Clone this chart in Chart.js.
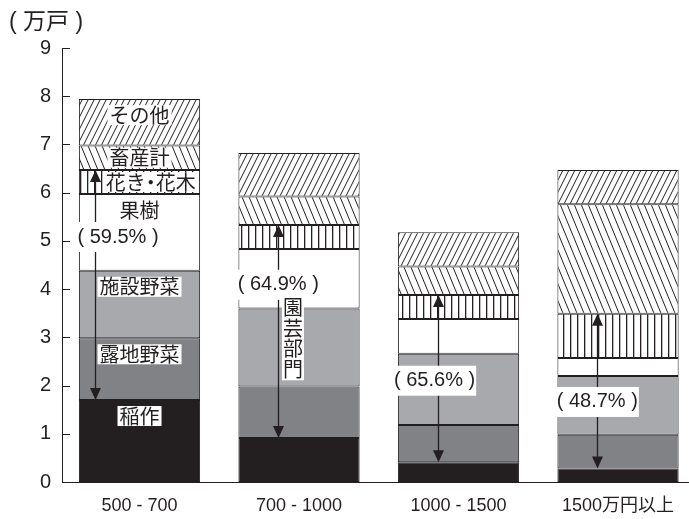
<!DOCTYPE html>
<html><head><meta charset="utf-8">
<script src="https://cdn.jsdelivr.net/npm/chart.js@4"></script>
<style>html,body{margin:0;padding:0;background:#fff;overflow:hidden}#wrap{width:689px;height:519px}</style>
</head><body><div id="wrap"><canvas id="c" width="689" height="519"></canvas></div>
<script>
// ---- data (万戸) ----
const categories = ['500 - 700', '700 - 1000', '1000 - 1500', '1500万円以上'];
const seriesNames = ['稲作', '露地野菜', '施設野菜', '果樹', '花き・花木', '畜産計', 'その他'];
const rice          = [1.70, 0.91, 0.41, 0.28];
const openVeg       = [1.28, 1.07, 0.77, 0.70];
const greenhouseVeg = [1.40, 1.62, 1.48, 1.22];
const fruit         = [1.59, 1.23, 0.72, 0.37];
const flowers       = [0.50, 0.50, 0.50, 0.92];
const livestock     = [0.51, 0.59, 0.59, 2.27];
const other         = [0.96, 0.90, 0.71, 0.71];
const shares        = ['59.5%', '64.9%', '65.6%', '48.7%'];
const yTicks        = [0, 1, 2, 3, 4, 5, 6, 7, 8, 9];
const yTitle = '( 万戸 )';
const hortLabel = '園芸部門';

const seriesValues = [rice, openVeg, greenhouseVeg, fruit, flowers, livestock, other];

// ---- styles ----
const INK = '#231f20';
const LATIN = "'Liberation Sans', Arial, 'Noto Sans CJK JP', sans-serif";
const CJK = "'Noto Sans CJK JP', 'Liberation Sans', sans-serif";

function pattern(kind) {
  const c = document.createElement('canvas');
  let W, H;
  if (kind === 'slash') { W = 6; H = 12; }
  else if (kind === 'back') { W = 7; H = 17; }
  else { W = 7; H = 4; }
  c.width = W; c.height = H;
  const g = c.getContext('2d');
  g.fillStyle = '#fff'; g.fillRect(0, 0, W, H);
  g.strokeStyle = INK; g.fillStyle = INK; g.lineWidth = 1;
  if (kind === 'vert') {
    g.fillRect(3, 0, 1.3, H);
  } else {
    g.beginPath();
    for (const o of [-W, 0, W]) {
      if (kind === 'slash') { g.moveTo(o, H); g.lineTo(o + W, 0); }
      else { g.moveTo(o, 0); g.lineTo(o + W, H); }
    }
    g.stroke();
  }
  return g.createPattern(c, 'repeat');
}

const fills = ['#231f20', '#808285', '#a7a9ac', '#ffffff', pattern('vert'), pattern('back'), pattern('slash')];

// annotation layout (positions in axis units / offsets)
const arrowDX = [-0.28, -0.13, -0.13, -0.13];
const shareY  = [5.08, 4.09, 2.10, 1.66];
const shareDX = [-0.135, -0.13, -0.15, -0.13];
const nameDX  = [0, 0, 0, 0, 0.07, 0, 0];
const hortPos = {i: 1, dx: -0.038, y: 2.98};

const datasets = seriesNames.map((name, k) => ({
  label: name,
  data: seriesValues[k].map((v, i) => ({x: i, y: v})),
  backgroundColor: fills[k],
  borderColor: INK,
  borderWidth: 1,
  borderSkipped: false,
  categoryPercentage: 1,
  barPercentage: 0.76
}));

// draw text centred at (x,y) on a white box; "・" is set half-width
function boxText(ctx, text, x, y, size, family, padX, padY) {
  ctx.font = size + 'px ' + family;
  const parts = [...text].map(ch => {
    const w = ctx.measureText(ch).width;
    return {ch, w: ch === '・' ? w / 2 : w};
  });
  const total = parts.reduce((a, p) => a + p.w, 0);
  ctx.fillStyle = '#fff';
  ctx.fillRect(x - total / 2 - padX, y - size / 2 - padY, total + 2 * padX, size + 2 * padY);
  ctx.fillStyle = INK;
  ctx.textAlign = 'center';
  ctx.textBaseline = 'middle';
  let cx = x - total / 2;
  parts.forEach(p => { ctx.fillText(p.ch, cx + p.w / 2, y); cx += p.w; });
}

const annotate = {
  id: 'annotate',
  afterDraw(chart) {
    const ctx = chart.ctx, xs = chart.scales.x, ys = chart.scales.y, area = chart.chartArea;
    ctx.save();
    // title
    ctx.font = '23px ' + LATIN;
    ctx.fillStyle = INK; ctx.textAlign = 'left'; ctx.textBaseline = 'middle';
    ctx.fillText(yTitle, 9, 23);
    // inward ticks
    ctx.strokeStyle = INK; ctx.lineWidth = 1;
    ctx.beginPath();
    yTicks.forEach(t => {
      const py = Math.round(ys.getPixelForValue(t)) + 0.5;
      ctx.moveTo(area.left, py); ctx.lineTo(area.left + 8, py);
    });
    ctx.stroke();
    // arrows (top of 花き・花木 to top of 稲作)
    categories.forEach((c, i) => {
      const topVal = rice[i] + openVeg[i] + greenhouseVeg[i] + fruit[i] + flowers[i];
      const botVal = rice[i];
      const px = Math.round(xs.getPixelForValue(i + arrowDX[i])) + 0.5;
      const y1 = ys.getPixelForValue(topVal), y2 = ys.getPixelForValue(botVal);
      ctx.strokeStyle = INK; ctx.fillStyle = INK; ctx.lineWidth = 1.3;
      ctx.beginPath(); ctx.moveTo(px, y1 + 8); ctx.lineTo(px, y2 - 8); ctx.stroke();
      ctx.beginPath(); ctx.moveTo(px, y1); ctx.lineTo(px - 5.5, y1 + 12); ctx.lineTo(px + 5.5, y1 + 12); ctx.closePath(); ctx.fill();
      ctx.beginPath(); ctx.moveTo(px, y2); ctx.lineTo(px - 5.5, y2 - 12); ctx.lineTo(px + 5.5, y2 - 12); ctx.closePath(); ctx.fill();
    });
    // series names inside first bar
    let cum = 0;
    seriesNames.forEach((name, k) => {
      const base = cum; cum += seriesValues[k][0];
      const topPx = ys.getPixelForValue(cum), basePx = ys.getPixelForValue(base);
      const py = (cum - base) < 0.6 ? (topPx + basePx) / 2 : topPx + 16;
      const px = xs.getPixelForValue(0 + nameDX[k]);
      boxText(ctx, name, px, py, 20, CJK, 2, 0);
    });
    // share labels
    shares.forEach((s, i) => {
      boxText(ctx, '( ' + s + ' )', xs.getPixelForValue(i + shareDX[i]), ys.getPixelForValue(shareY[i]), 20, LATIN, 1, 5);
    });
    // vertical 園芸部門
    {
      const px = xs.getPixelForValue(hortPos.i + hortPos.dx), cy = ys.getPixelForValue(hortPos.y);
      const n = hortLabel.length, step = 20.5, size = 20;
      ctx.fillStyle = '#fff';
      ctx.fillRect(px - 11, cy - n * step / 2 - 1, 22, n * step + 2);
      ctx.fillStyle = INK; ctx.font = size + 'px ' + CJK; ctx.textAlign = 'center'; ctx.textBaseline = 'middle';
      [...hortLabel].forEach((ch, j) => ctx.fillText(ch, px, cy - n * step / 2 + step * (j + 0.5)));
    }
    ctx.restore();
  }
};

new Chart(document.getElementById('c'), {
  type: 'bar',
  data: {datasets},
  options: {
    responsive: false, animation: false, devicePixelRatio: 1,
    layout: {padding: {top: 48, right: 0, left: 0, bottom: 0}},
    plugins: {legend: {display: false}, tooltip: {enabled: false}, title: {display: false}},
    scales: {
      x: {
        type: 'linear', min: -0.486, max: 3.445, stacked: true, offset: false,
        grid: {display: false, drawTicks: false},
        border: {display: true, color: INK, width: 1},
        ticks: {stepSize: 1, includeBounds: false, autoSkip: false, maxRotation: 0, padding: 13,
                color: INK, font: {family: LATIN, size: 18},
                callback: v => (Number.isInteger(v) && categories[v] !== undefined) ? categories[v] : ''},
        afterFit(s) { s.height = 37; }
      },
      y: {
        min: 0, max: 9, stacked: true,
        grid: {display: false, drawTicks: false},
        border: {display: true, color: INK, width: 1},
        ticks: {stepSize: 1, padding: 11, color: INK, font: {family: LATIN, size: 20}},
        afterFit(s) { s.width = 62; }
      }
    }
  },
  plugins: [annotate]
});
</script></body></html>
